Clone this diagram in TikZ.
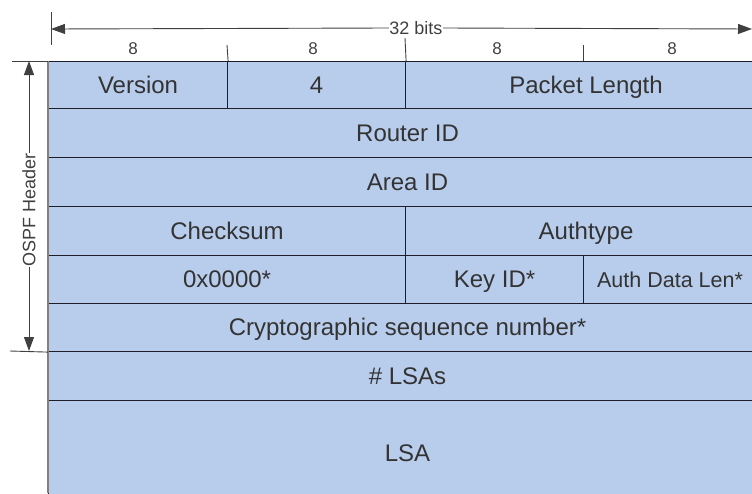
\documentclass[tikz,border=0pt]{standalone}
\usepackage{fontspec}
\setmainfont{Liberation Sans}
\usetikzlibrary{arrows.meta}
\definecolor{fieldblue}{RGB}{184,204,236}
\definecolor{linedark}{RGB}{30,30,40}
\tikzset{
  field/.style={draw=linedark, line width=1.1pt, fill=fieldblue, inner sep=0pt, font=\fontsize{24}{28}\selectfont, text=black!80, text height=17.5pt, text depth=1.5pt},
  bitlbl/.style={font=\fontsize{17}{20}\selectfont, inner sep=0pt, text=black!75},
  dim/.style={draw=black!75, line width=0.9pt},
  dimarrow/.style={dim, -{Triangle[length=14pt,width=10pt]}},
}
\begin{document}
\begin{tikzpicture}[x=1pt,y=-1pt]
\useasboundingbox (0,0) rectangle (752,493);
\clip (0,0) rectangle (752,493);
% rows
\newcommand{\fld}[6]{% name, x1, y1, x2, y2, text
  \node[field, minimum width={#4-#2}, minimum height={#5-#3}, anchor=north west] (#1) at (#2,#3) {#6};}
\fld{ver}{48}{61}{227}{108}{Version}
\fld{four}{227}{61}{405}{108}{4}
\fld{plen}{405}{61}{766}{108}{Packet Length}
\fld{rid}{48}{108}{766}{157}{Router ID}
\fld{aid}{48}{157}{766}{206}{Area ID}
\fld{cks}{48}{206}{405}{255}{Checksum}
\fld{aut}{405}{206}{766}{255}{Authtype}
\fld{zero}{48}{255}{405}{303}{0x0000*}
\fld{kid}{405}{255}{583}{303}{Key ID*}
\fld{adl}{583}{255}{766}{303}{\fontsize{21.5}{24}\selectfont\hspace*{-10pt}Auth Data Len*}
\fld{seq}{48}{303}{766}{351}{Cryptographic sequence number*}
\fld{nls}{48}{351}{766}{400}{\# LSAs}
\fld{lsa}{48}{400}{766}{505}{LSA}
\draw[line width=1.8pt, draw=black!50] (48,61) -- (48,493);
% bit labels and ticks
\node[bitlbl] (b1) at (133,49) {8};
\node[bitlbl] (b2) at (313,49) {8};
\node[bitlbl] (b3) at (497,49) {8};
\node[bitlbl] (b4) at (672,49) {8};
\coordinate (t1) at (227,45);
\coordinate (t2) at (405,38);
\coordinate (t3) at (583,45);
\draw[dim] (t1) -- (ver.north east);
\draw[dim] (t2) -- (four.north east);
\draw[dim] (t3) -- (583,61);
% 32 bits arrow
\coordinate (lt) at (51,12);
\coordinate (lb) at (51,45);
\draw[dim] (lt) -- (lb);
\coordinate (al) at (51,29);
\coordinate (ar) at (752,29);
\node[font=\fontsize{18}{20}\selectfont, fill=white, inner sep=0.5pt, text=black!75] (bits) at (416,28) {32 bits};
\draw[dimarrow] (bits.west) -- (al);
\draw[dimarrow] (bits.east) -- (ar);
% OSPF header arrow
\coordinate (ht1) at (12,61);
\coordinate (ht2) at (10,351);
\draw[dim] (ht1) -- (ver.north west);
\draw[dim] (ht2) -- (seq.south west);
\node[rotate=90, font=\fontsize{18}{20}\selectfont, fill=white, inner sep=0.5pt, text=black!75] (hdr) at (29,210) {OSPF Header};
\coordinate (vt) at (29,61);
\coordinate (vb) at (29,351);
\draw[dimarrow] (hdr.east) -- (vt);
\draw[dimarrow] (hdr.west) -- (vb);
\end{tikzpicture}
\end{document}
